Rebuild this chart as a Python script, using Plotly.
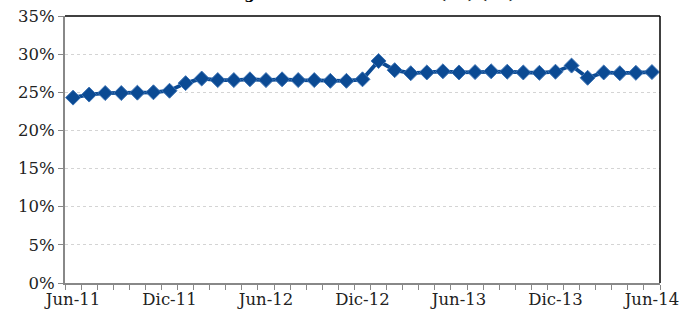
import plotly.graph_objects as go

months = ["Jun", "Jul", "Ago", "Sep", "Oct", "Nov", "Dic", "Ene", "Feb", "Mar", "Abr", "May"]

# 37 monthly categories: Jun-11 .. Jun-14
categories = []
y_ = 11
for i in range(37):
    m = months[i % 12]
    if m == "Ene":
        y_ += 1
    categories.append(f"{m}-{y_}")

values = [24.3, 24.7, 24.9, 24.9, 24.95, 25.0, 25.2, 26.2, 26.8, 26.6,
          26.6, 26.7, 26.6, 26.7, 26.6, 26.6, 26.5, 26.5, 26.7, 29.1,
          27.9, 27.5, 27.6, 27.75, 27.6, 27.65, 27.75, 27.7, 27.6, 27.55,
          27.7, 28.5, 26.9, 27.6, 27.5, 27.55, 27.65]

title_text = "Margen de intermediación (P2) (P6)"

x_idx = list(range(len(categories)))
tick_idx = x_idx[::6]
tick_lbl = [categories[i] for i in tick_idx]

color = "#0B4A93"
font_family = "DejaVu Serif"

fig = go.Figure()
fig.add_trace(go.Scatter(
    x=x_idx, y=[v / 100 for v in values],
    mode="lines+markers",
    line=dict(color=color, width=3.8),
    marker=dict(symbol="diamond", size=11.5, color=color,
                line=dict(color="#3E74B5", width=1)),
    showlegend=False,
))

fig.update_layout(
    width=696, height=314,
    margin=dict(l=65, r=36, t=16, b=31, autoexpand=False),
    paper_bgcolor="white", plot_bgcolor="white",
    font=dict(family=font_family, size=16, color="#222222"),
)

fig.update_xaxes(
    automargin=False,
    range=[-0.5, len(categories) - 0.5],
    tickmode="array", tickvals=tick_idx, ticktext=tick_lbl,
    ticks="", showgrid=False, zeroline=False,
    showline=True, linecolor="#888888", linewidth=2,
    tickfont=dict(family=font_family, size=16.5, color="#222222"),
    minor=dict(ticks="outside", ticklen=5, tickcolor="#888888", tickwidth=1,
               tick0=-0.5, dtick=1, showgrid=False),
)

fig.update_yaxes(
    automargin=False,
    range=[0, 0.35], dtick=0.05, tickformat=".0%",
    ticks="outside", ticklen=5, tickcolor="#888888",
    showgrid=True, gridcolor="#d4d4d4", griddash="dot", gridwidth=1,
    zeroline=False,
    showline=True, linecolor="#888888", linewidth=2,
    tickfont=dict(family=font_family, size=16.5, color="#222222"),
)

# frame: top and right borders in black
fig.add_shape(type="line", xref="paper", yref="paper", x0=0, x1=1, y0=1, y1=1,
              line=dict(color="black", width=1.5))
fig.add_shape(type="line", xref="paper", yref="paper", x0=1, x1=1, y0=0, y1=1,
              line=dict(color="black", width=1.5))

fig.add_annotation(
    text=f"<b>{title_text}</b>", xref="paper", yref="paper",
    x=0.5, y=1.042, xanchor="center", yanchor="bottom", showarrow=False,
    font=dict(family=font_family, size=15, color="black"),
)

fig.write_html("out.html",
               config={"displayModeBar": False},
               post_script="document.body.style.margin='0';document.body.style.overflow='hidden';")
